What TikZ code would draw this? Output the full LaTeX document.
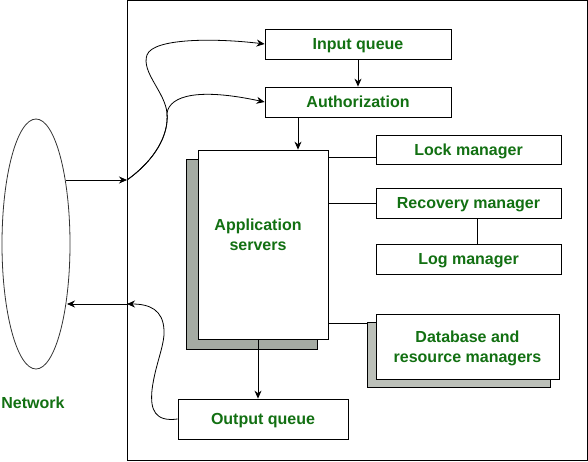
\documentclass[tikz,border=0pt]{standalone}
\usepackage{fontspec}
\setmainfont{Liberation Sans}
\usetikzlibrary{arrows.meta,shapes.geometric}
\definecolor{txtgreen}{RGB}{18,112,18}
\definecolor{shadowgray}{RGB}{165,171,163}
\definecolor{dotgray}{RGB}{188,192,185}
\tikzset{
  box/.style={draw=black, line width=0.8pt, fill=white, inner sep=0pt, font=\bfseries\fontsize{16}{20}\selectfont, text=txtgreen, align=center},
  onebox/.style={box, text depth=0pt},
  lbl/.style={inner sep=0pt, font=\bfseries\fontsize{16}{20}\selectfont, text=txtgreen, align=center},
  arr/.style={line width=0.8pt, -{Stealth[length=8pt,width=7pt]}},
  ln/.style={line width=0.8pt},
}
\begin{document}
\begin{tikzpicture}[x=1pt,y=-1pt]
\useasboundingbox (0,0) rectangle (588,461);
% outer system frame
\node[draw=black, line width=0.8pt, minimum width=460pt, minimum height=460pt, inner sep=0pt] (sys) at (357,230) {};
% network
\node[draw=black!80, line width=0.8pt, ellipse, minimum width=68pt, minimum height=250pt, inner sep=0pt] (net) at (36,244) {};
\node[lbl] (netlbl) at (33,403) {Network};
% coordinates on the frame and the ellipse
\coordinate (inpt) at (127,180);
\coordinate (netout) at (66,180);
\coordinate (outpt) at (127,304);
\coordinate (netin) at (67,304);
% boxes
\node[onebox, minimum width=186pt, minimum height=30pt] (inq) at (358,44) {Input queue};
\node[onebox, minimum width=186pt, minimum height=30pt] (auth) at (358,102) {Authorization};
\node[onebox, minimum width=185pt, minimum height=29pt] (lock) at (468.5,149.5) {Lock manager};
\node[onebox, minimum width=185pt, minimum height=30pt] (rec) at (468.5,203) {Recovery manager};
\node[onebox, minimum width=185pt, minimum height=30pt] (log) at (468.5,259) {Log manager};
\node[onebox, minimum width=170pt, minimum height=40pt] (outq) at (263,419) {Output queue};
% lines from application servers to managers
\draw[ln] (328,157) -- (lock.west |- 0,157);
\draw[ln] (328,203) -- (rec.west);
\draw[ln] (328,323) -- (376,323);
\draw[ln] (rec.south -| 477,0) -- (log.north -| 477,0);
% application servers with shadow
\fill[shadowgray, draw=black, line width=0.8pt] (186,159) rectangle (317,349);
\node[box, minimum width=130pt, minimum height=189pt] (app) at (263,244.5) {};
\node[lbl] (apptxt) at (258,235) {Application\\servers};
% database with shadow
\fill[dotgray, draw=black, line width=0.8pt] (367,322) rectangle (550,387);
\node[onebox, minimum width=183pt, minimum height=65pt] (db) at (467.5,346.5) {Database and\\resource managers};
% arrows
\draw[arr] (netout) -- (inpt);
\draw[arr] (inpt) .. controls (155,160) and (169,135) .. (167,113) .. controls (165,92) and (141,72) .. (147,55) .. controls (153,38) and (215,38) .. (inq.west);
\draw[arr] (inpt) .. controls (155,160) and (169,135) .. (167,113) .. controls (170,95) and (200,88) .. (auth.west);
\draw[arr] (inq.south) -- (auth.north);
\draw[arr] (auth.south -| 298,0) -- (app.north -| 298,0);
\draw[arr] (app.south -| 258,0) -- (outq.north -| 258,0);
\draw[arr] (outq.west) .. controls (155,422) and (150,410) .. (152,390) .. controls (155,365) and (165,345) .. (164,330) .. controls (163,310) and (150,304) .. (outpt);
\draw[arr] (outpt) -- (netin);
\end{tikzpicture}
\end{document}
